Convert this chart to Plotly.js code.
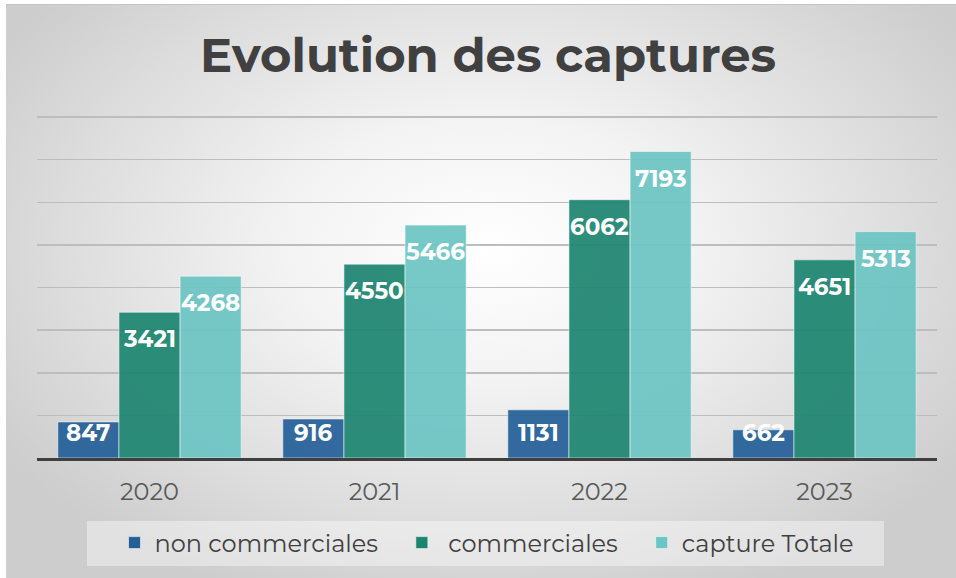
<!DOCTYPE html>
<html>
<head>
<meta charset="utf-8">
<script src="https://cdn.plot.ly/plotly-3.0.1.min.js"></script>
<style>
  html, body { margin: 0; padding: 0; background: #ffffff; width: 956px; height: 578px; overflow: hidden; }
  #bg { position: absolute; left: 6px; top: 4px; width: 960px; height: 580px;
        border-top: 1.5px solid #c4c4c4; border-left: 1.5px solid #d0d0d0;
        background: radial-gradient(ellipse 60% 65% at 50% 42%, #ffffff 0%, #f3f3f3 35%, #dcdcdc 75%, #cdcdcd 100%); }
  #chart { position: absolute; left: 0; top: 0; width: 956px; height: 578px; }
</style>
</head>
<body>
<div id="bg"></div>
<div id="chart"></div>
<script>
const years = ['2020', '2021', '2022', '2023'];
const nonCommerciales = [847, 916, 1131, 662];
const commerciales = [3421, 4550, 6062, 4651];
const captureTotale = [4268, 5466, 7193, 5313];
const seriesNames = ['non commerciales\u00a0\u00a0\u00a0', '\u00a0commerciales\u00a0\u00a0\u00a0', 'capture Totale'];
const seriesColors = ['#245f98', '#1c8570', '#6cc5c4'];

const FONT = 'Montserrat, "Open Sans", "DejaVu Sans", sans-serif';
const values = [nonCommerciales, commerciales, captureTotale];

const W = 956, H = 578;
const M = { l: 37, r: 19, t: 115, b: 120 };
const yMax = 8050;
const bargap = 0.185;
const plotH = H - M.t - M.b;
const pxPerUnit = plotH / yMax;
const barW = (1 - bargap) / values.length;

const traces = values.map((v, i) => ({
  type: 'bar',
  name: seriesNames[i],
  x: years,
  y: v,
  marker: { color: seriesColors[i], opacity: 0.92, line: { color: 'rgba(255,255,255,0.55)', width: 1 } },
  hoverinfo: 'x+y+name'
}));

// value labels at the inside end of each bar
const annotations = [];
values.forEach((v, s) => {
  v.forEach((val, i) => {
    annotations.push({
      x: i + (s - (values.length - 1) / 2) * barW,
      y: Math.max(val - 27 / pxPerUnit, 25 / pxPerUnit),
      xref: 'x', yref: 'y',
      text: String(val),
      showarrow: false,
      xanchor: 'center', yanchor: 'middle',
      font: { family: FONT, size: 23, color: '#ffffff', weight: 700 }
    });
  });
});

const layout = {
  width: W, height: H,
  margin: M,
  paper_bgcolor: 'rgba(0,0,0,0)',
  plot_bgcolor: 'rgba(0,0,0,0)',
  barmode: 'group',
  bargap: bargap,
  bargroupgap: 0,
  title: {
    text: 'Evolution des captures',
    font: { family: FONT, size: 48, color: '#404040', weight: 700 },
    x: 488 / W, xanchor: 'center', xref: 'container',
    y: 1 - 55 / H, yanchor: 'middle', yref: 'container'
  },
  xaxis: {
    type: 'category',
    showline: true, linecolor: '#3f3f3f', linewidth: 3,
    ticks: '', showgrid: false,
    tickfont: { family: FONT, size: 24, color: '#595959' },
    ticklabelstandoff: 10
  },
  yaxis: {
    range: [0, yMax], dtick: 1000,
    showticklabels: false, ticks: '',
    showgrid: true, gridcolor: '#bdbdbd', gridwidth: 1.5,
    zeroline: false, fixedrange: true
  },
  showlegend: true,
  legend: {
    orientation: 'h',
    x: 0.5, xanchor: 'center',
    y: -85 / plotH, yanchor: 'middle',
    yref: 'paper',
    bgcolor: 'rgba(0,0,0,0)',
    font: { family: FONT, size: 24, color: '#404040' },
    itemclick: false, itemdoubleclick: false,
    traceorder: 'normal'
  },
  annotations: annotations,
  shapes: [{
    type: 'rect', xref: 'paper', yref: 'paper', layer: 'below',
    x0: (87 - M.l) / (W - M.l - M.r), x1: (884 - M.l) / (W - M.l - M.r),
    y0: (458 - 566) / (458 - M.t), y1: (458 - 521) / (458 - M.t),
    fillcolor: 'rgba(255,255,255,0.4)', line: { width: 0 }
  }]
};

Plotly.newPlot('chart', traces, layout, { displayModeBar: false, staticPlot: true });
</script>
</body>
</html>
